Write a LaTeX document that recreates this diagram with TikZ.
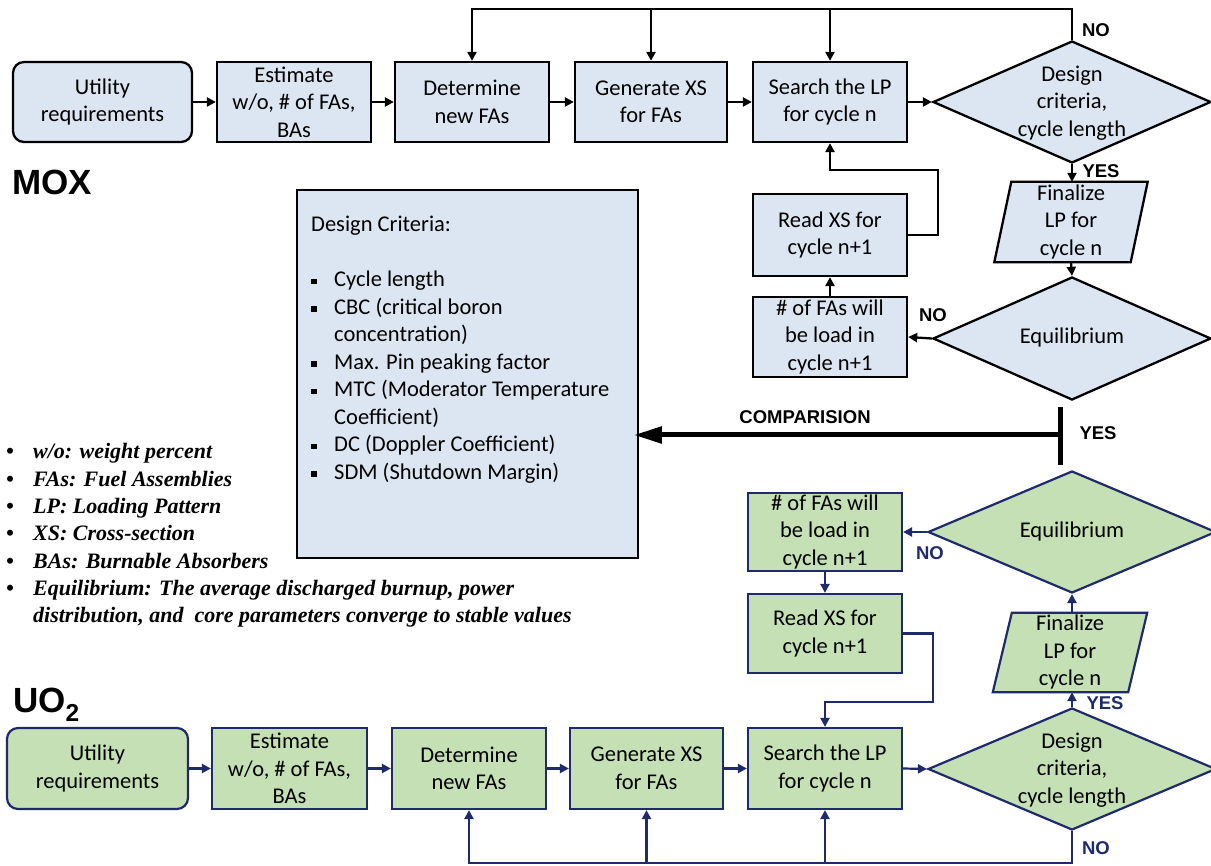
\documentclass[tikz,border=0pt]{standalone}
\usepackage{fontspec}
\setmainfont{Carlito}
\newfontfamily\legfont{Liberation Serif}
\newfontfamily\lblfont{Liberation Sans}
\usetikzlibrary{arrows.meta,shapes.geometric,backgrounds}
\definecolor{bfill}{RGB}{220,230,242}
\definecolor{gfill}{RGB}{197,224,180}
\definecolor{navy}{RGB}{31,42,107}
\newcommand{\sqb}{\rule[2.5pt]{5.5pt}{5.5pt}}
\newcommand{\parapath}[3]{\begin{pgfonlayer}{background}\path[#3] (#1.south west) -- ([xshift=-#2pt]#1.south east) -- (#1.north east) -- ([xshift=#2pt]#1.north west) -- cycle;\end{pgfonlayer}}
\begin{document}
\begin{tikzpicture}[x=1pt,y=-1pt,
 boxtxt/.style={font=\fontsize{22.5}{27.5}\selectfont, align=center},
 mbox/.style={rectangle, draw=black, fill=bfill, line width=2.3pt, inner sep=0pt, minimum height=80pt, boxtxt},
 gbox/.style={rectangle, draw=navy, fill=gfill, line width=2.2pt, inner sep=0pt, minimum height=81pt, boxtxt},
 ptxt/.style={rectangle, draw=none, inner sep=0pt, boxtxt},
 mpara/.style={draw=black, fill=bfill, line width=2.3pt},
 gpara/.style={draw=navy, fill=gfill, line width=2.2pt},
 mdia/.style={diamond, draw=black, fill=bfill, line width=2.3pt, inner sep=0pt},
 gdia/.style={diamond, draw=navy, fill=gfill, line width=2.2pt, inner sep=0pt},
 marr/.style={draw=black, line width=2.3pt, -{Triangle[length=9pt,width=9pt]}},
 garr/.style={draw=navy, line width=2.2pt, -{Triangle[length=9pt,width=9pt]}},
 mlab/.style={font=\lblfont\bfseries\fontsize{18.5}{18.5}\selectfont, text=black, inner sep=0pt},
 glab/.style={mlab, text=navy},
 biglab/.style={font=\lblfont\bfseries\fontsize{35}{35}\selectfont, inner sep=0pt, anchor=west},
]
\useasboundingbox (0,0) rectangle (1211,866);

% ---------------- MOX (top) ----------------
\node[mbox, rounded corners=11pt, minimum width=179pt] (mu) at (102.5,102) {Utility\\requirements};
\node[mbox, minimum width=154pt] (me) at (294,102) {Estimate\\w/o, \# of FAs,\\BAs};
\node[mbox, minimum width=154pt] (md) at (472,102) {Determine\\new FAs};
\node[mbox, minimum width=152pt] (mg) at (651,102) {Generate XS\\for FAs};
\node[mbox, minimum width=154pt] (ms) at (830,102) {Search the LP\\for cycle n};
\node[mdia, minimum width=278pt, minimum height=122pt] (mdc) at (1072,102) {};
\node[ptxt] (mdct) at (1072,103) {Design\\criteria,\\cycle length};
\node[ptxt, minimum width=153pt, minimum height=80pt] (mf) at (1071,222) {Finalize\\LP for\\cycle n};
\parapath{mf}{17}{mpara}
\node[mdia, minimum width=278pt, minimum height=123pt] (meq) at (1072,338.5) {};
\node[ptxt] (meqt) at (1072,338) {Equilibrium};
\node[mbox, minimum width=154pt, minimum height=82pt] (mr) at (830,235) {Read XS for\\cycle n+1};
\node[mbox, minimum width=154pt] (mn) at (830,337) {\# of FAs will\\be load in\\cycle n+1};

\draw[marr] (mu.east) -- (me.west);
\draw[marr] (me.east) -- (md.west);
\draw[marr] (md.east) -- (mg.west);
\draw[marr] (mg.east) -- (ms.west);
\draw[marr] (ms.east) -- (mdc.west);
\coordinate (mtop) at (1072,9);
\draw[marr] (mdc.north) -- (mtop) -| (md.north);
\draw[marr] (mg.north |- mtop) -- (mg.north);
\draw[marr] (ms.north |- mtop) -- (ms.north);
\draw[marr] (mdc.south) -- (mdc.south |- mf.north);
\draw[marr] (mf.south) -- (meq.north);
\draw[marr] (meq.west) -- (mn.east);
\draw[marr] (mn.north) -- (mr.south);
\coordinate (mk) at (938,170);
\draw[marr] (mr.east) -| (mk) -| (ms.south);
\node[mlab] (mno1) at (1096,30) {NO};
\node[mlab] (myes1) at (1101,171) {YES};
\node[mlab] (mno2) at (933,315) {NO};

% Design criteria box
\node[rectangle, draw=black, fill=bfill, line width=1.5pt, minimum width=341pt, minimum height=368pt, inner sep=0pt] (crit) at (467.5,374) {};
\node[anchor=base west, inner sep=0pt, font=\fontsize{22.5}{27.5}\selectfont] (critt) at (311,232) {%
\begin{tabular}[t]{@{}p{23pt}@{}l@{}}
\multicolumn{2}{@{}l@{}}{Design Criteria:}\\
 & \\
\sqb & Cycle length\\
\sqb & CBC (critical boron\\
 & concentration)\\
\sqb & Max. Pin peaking factor\\
\sqb & MTC (Moderator Temperature\\
 & Coefficient)\\
\sqb & DC (Doppler Coefficient)\\
\sqb & SDM (Shutdown Margin)
\end{tabular}};

% comparison
\coordinate (cmp) at (1060,435);
\draw[line width=5pt] ([yshift=-30pt]cmp) -- ([yshift=28pt]cmp);
\draw[line width=5pt, -{Triangle[length=28pt,width=16pt]}, shorten >=-5pt] (cmp) -- (crit.east |- cmp);
\node[mlab] (cmpl) at (805,417) {COMPARISION};
\node[mlab] (myes2) at (1098,433) {YES};

% labels
\node[biglab] (mox) at (12,182) {MOX};
\node[biglab] (uo2) at (13,705) {UO\textsubscript{2}};

% legend
\node[anchor=base west, inner sep=0pt, font=\legfont\bfseries\itshape\fontsize{22}{27.3}\selectfont] (leg) at (6,459) {%
\begin{tabular}[t]{@{}p{27pt}@{}l@{}}
\textbullet & w/o: weight percent\\
\textbullet & FAs: Fuel Assemblies\\
\textbullet & LP: Loading Pattern\\
\textbullet & XS: Cross-section\\
\textbullet & BAs: Burnable Absorbers\\
\textbullet & Equilibrium: The average discharged burnup, power\\
 & distribution, and\ \ core parameters converge to stable values
\end{tabular}};

% ---------------- UO2 (bottom) ----------------
\node[gbox, rounded corners=11pt, minimum width=181pt] (gu) at (97.5,768.5) {Utility\\requirements};
\node[gbox, minimum width=155pt] (ge) at (289.5,768.5) {Estimate\\w/o, \# of FAs,\\BAs};
\node[gbox, minimum width=154pt] (gd) at (469,768.5) {Determine\\new FAs};
\node[gbox, minimum width=153pt] (gg) at (646.5,768.5) {Generate XS\\for FAs};
\node[gbox, minimum width=154pt] (gs) at (825,768.5) {Search the LP\\for cycle n};
\node[gdia, minimum width=288pt, minimum height=122pt] (gdc) at (1072,769) {};
\node[ptxt] (gdct) at (1072,770) {Design\\criteria,\\cycle length};
\node[ptxt, minimum width=154pt, minimum height=79pt] (gf) at (1070,652.5) {Finalize\\LP for\\cycle n};
\parapath{gf}{19}{gpara}
\node[gdia, minimum width=288pt, minimum height=122pt] (geq) at (1072,532) {};
\node[ptxt] (geqt) at (1072,532) {Equilibrium};
\node[gbox, minimum width=154pt, minimum height=78pt] (gn) at (825,532) {\# of FAs will\\be load in\\cycle n+1};
\node[gbox, minimum width=154pt, minimum height=79pt] (gr) at (825,633.5) {Read XS for\\cycle n+1};

\draw[garr] (gu.east) -- (ge.west);
\draw[garr] (ge.east) -- (gd.west);
\draw[garr] (gd.east) -- (gg.west);
\draw[garr] (gg.east) -- (gs.west);
\draw[garr] (gs.east) -- (gdc.west);
\draw[garr] (gdc.north) -- (gdc.north |- gf.south);
\draw[garr] (gf.north -| geq.south) -- (geq.south);
\draw[garr] (geq.west) -- (gn.east);
\draw[garr] (gn.south) -- (gr.north);
\coordinate (gk) at (933,702);
\draw[garr] (gr.east) -| (gk) -| (gs.north);
\coordinate (gbot) at (1072,863);
\draw[garr] (gdc.south) -- (gbot) -| (gd.south);
\draw[garr] (gg.south |- gbot) -- (gg.south);
\draw[garr] (gs.south |- gbot) -- (gs.south);
\node[glab] (gno1) at (1096,848) {NO};
\node[glab] (gyes1) at (1105,703) {YES};
\node[glab] (gno2) at (930,553) {NO};
\end{tikzpicture}
\end{document}
